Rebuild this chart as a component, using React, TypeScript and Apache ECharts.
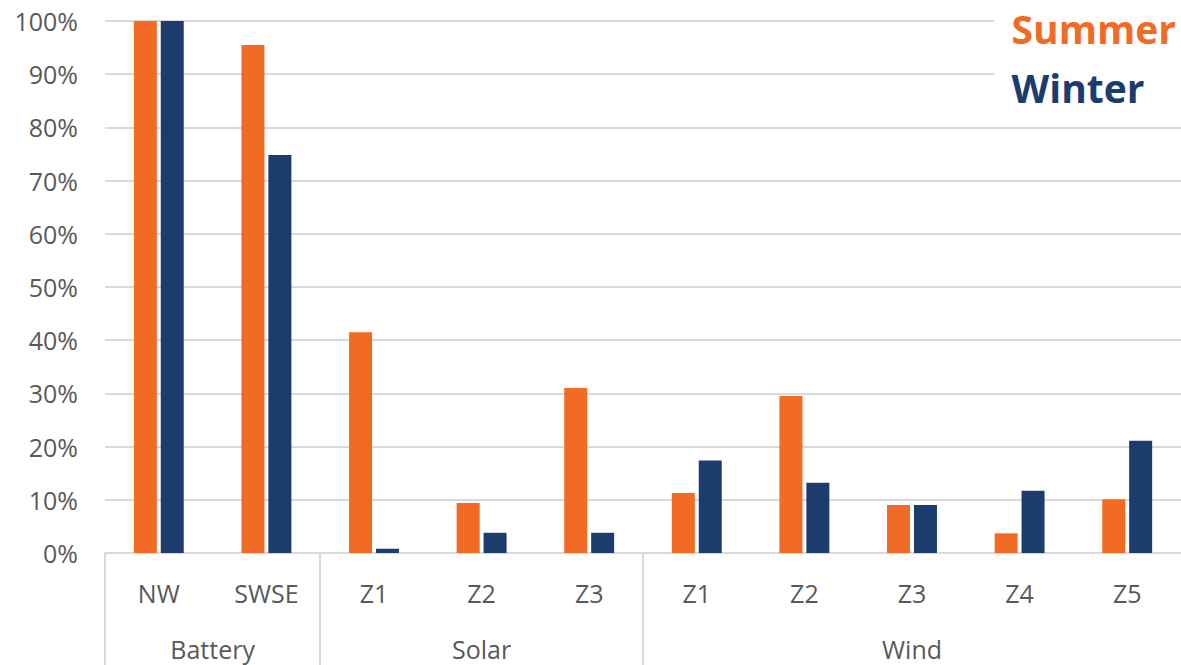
import React, { useEffect, useRef } from "react";
import * as echarts from "echarts";

const categories = ["NW", "SWSE", "Z1", "Z2", "Z3", "Z1", "Z2", "Z3", "Z4", "Z5"];
const groupNames = ["Battery", "Solar", "Wind"];
const groupCounts = [2, 3, 5];
const summer = [1.0, 0.955, 0.415, 0.094, 0.31, 0.113, 0.295, 0.09, 0.037, 0.101];
const winter = [1.0, 0.748, 0.008, 0.038, 0.038, 0.174, 0.132, 0.09, 0.117, 0.211];
const seriesNames = ["Summer", "Winter"];
const colors = ["#F26B25", "#1D3C6E"];

const FONT = "'Open Sans', 'Noto Sans', sans-serif";
const GRAY = "#595959";
const LINE = "#D9D9D9";

export default function App() {
  const ref = useRef<HTMLDivElement>(null);
  useEffect(() => {
    if (!ref.current) return;
    const chart = echarts.init(ref.current, null, { renderer: "svg" });

    const boundaries: number[] = [];
    const centers: number[] = [];
    let acc = 0;
    groupCounts.forEach((c) => {
      boundaries.push(acc);
      centers.push(acc + c / 2);
      acc += c;
    });

    chart.setOption({
      animation: false,
      textStyle: { fontFamily: FONT },
      grid: { left: 105, right: 0, top: 21, bottom: 112, containLabel: false },
      legend: {
        data: seriesNames.map((n, i) => ({ name: n, textStyle: { color: colors[i] } })),
        orient: "vertical",
        right: 0,
        top: 0,
        icon: "rect",
        itemWidth: 0,
        itemHeight: 0,
        itemGap: 17,
        selectedMode: false,
        backgroundColor: "#ffffff",
        padding: [7, 5, 8, 12],
        textStyle: { fontSize: 39, fontWeight: "bold", fontFamily: FONT, lineHeight: 42 },
      },
      xAxis: [
        {
          type: "category",
          data: categories,
          axisLine: { lineStyle: { color: LINE, width: 2 } },
          axisTick: { show: false },
          axisLabel: { color: GRAY, fontSize: 25, margin: 27, fontFamily: FONT },
        },
        {
          type: "value",
          min: 0,
          max: acc,
          position: "bottom",
          axisLine: { show: false },
          splitLine: { show: false },
          axisTick: {
            show: true,
            customValues: boundaries,
            length: 112,
            lineStyle: { color: LINE, width: 2 },
          },
          axisLabel: {
            customValues: centers,
            color: GRAY,
            fontSize: 25,
            margin: 83,
            fontFamily: FONT,
            formatter: (v: number) => {
              const idx = centers.findIndex((c) => Math.abs(c - v) < 1e-6);
              return idx >= 0 ? groupNames[idx] : "";
            },
          },
        },
      ],
      yAxis: {
        type: "value",
        min: 0,
        max: 1,
        interval: 0.1,
        axisLine: { show: false },
        axisTick: { show: false },
        splitLine: { lineStyle: { color: LINE, width: 2 } },
        axisLabel: {
          color: GRAY,
          fontSize: 25,
          margin: 27,
          fontFamily: FONT,
          formatter: (v: number) => `${Math.round(v * 100)}%`,
        },
      },
      series: [
        {
          name: seriesNames[0],
          type: "bar",
          data: summer,
          barWidth: 23,
          barGap: "17%",
          itemStyle: { color: colors[0] },
        },
        {
          name: seriesNames[1],
          type: "bar",
          data: winter,
          barWidth: 23,
          barGap: "17%",
          itemStyle: { color: colors[1] },
        },
      ],
    });
    return () => chart.dispose();
  }, []);
  return (
    <div
      ref={ref}
      style={{ position: "absolute", left: 0, top: 0, width: 1181, height: 665, background: "#fff" }}
    />
  );
}
